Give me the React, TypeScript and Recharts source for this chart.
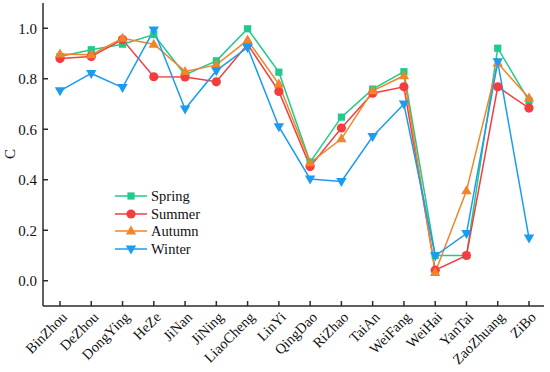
import React from 'react';
import { LineChart, Line, XAxis, YAxis } from 'recharts';

const cities = ['BinZhou', 'DeZhou', 'DongYing', 'HeZe', 'JiNan', 'JiNing', 'LiaoCheng', 'LinYi', 'QingDao', 'RiZhao', 'TaiAn', 'WeiFang', 'WeiHai', 'YanTai', 'ZaoZhuang', 'ZiBo'];
const spring = [0.888, 0.915, 0.937, 0.975, 0.816, 0.871, 0.998, 0.826, 0.470, 0.648, 0.759, 0.828, 0.100, 0.100, 0.921, 0.712];
const summer = [0.880, 0.888, 0.955, 0.808, 0.807, 0.788, 0.937, 0.750, 0.452, 0.605, 0.743, 0.768, 0.042, 0.100, 0.768, 0.684];
const autumn = [0.898, 0.895, 0.960, 0.937, 0.829, 0.855, 0.953, 0.779, 0.467, 0.562, 0.752, 0.812, 0.033, 0.356, 0.862, 0.724];
const winter = [0.752, 0.821, 0.765, 0.993, 0.680, 0.832, 0.924, 0.610, 0.403, 0.393, 0.571, 0.700, 0.099, 0.187, 0.867, 0.169];
const yTicks = [0, 0.2, 0.4, 0.6, 0.8, 1.0];

const seriesNames = ['Spring', 'Summer', 'Autumn', 'Winter'];
const colors = ['#1fcb8a', '#f43d3f', '#f0852a', '#1a9cf2'];
const shapes = ['square', 'circle', 'up', 'down'];

const data = cities.map((c, i) => ({
  city: c,
  Spring: spring[i],
  Summer: summer[i],
  Autumn: autumn[i],
  Winter: winter[i],
}));

const FONT = "'Liberation Serif', 'Times New Roman', serif";
const AXIS = '#2b2b2b';

function Marker({ shape, cx, cy, color }: any) {
  if (shape === 'square') {
    return <rect x={cx - 3.6} y={cy - 3.6} width={7.2} height={7.2} fill={color} />;
  }
  if (shape === 'circle') {
    return <circle cx={cx} cy={cy} r={4.6} fill={color} />;
  }
  if (shape === 'up') {
    return <polygon points={`${cx},${cy - 5.5} ${cx + 5.2},${cy + 3.5} ${cx - 5.2},${cy + 3.5}`} fill={color} />;
  }
  return <polygon points={`${cx},${cy + 5.5} ${cx + 5.2},${cy - 3.5} ${cx - 5.2},${cy - 3.5}`} fill={color} />;
}

const makeDot = (shape: string, color: string) => (props: any) => {
  const { cx, cy, index } = props;
  return <Marker key={`${shape}-${index}`} shape={shape} cx={cx} cy={cy} color={color} />;
};

const XTick = (props: any) => {
  const { x, y, payload } = props;
  const tx = x + 8;
  const ty = y + 12;
  return (
    <text x={tx} y={ty} textAnchor="end" transform={`rotate(-45 ${tx} ${ty})`} fontFamily={FONT} fontSize={14.5} fill="#111">
      {payload.value}
    </text>
  );
};

const YLabel = () => (
  <text x={15} y={154} transform="rotate(-90 15 154)" textAnchor="middle" fontFamily={FONT} fontSize={15} fill="#111">
    C
  </text>
);

export default function App() {
  return (
    <div style={{ position: 'absolute', left: 0, top: 0, width: 550, height: 372, background: '#fff' }}>
      <LineChart width={550} height={372} data={data} margin={{ top: 3, right: 6, bottom: 0, left: 0 }}>
        <XAxis
          dataKey="city"
          height={66}
          padding={{ left: 17, right: 15 }}
          interval={0}
          tickSize={-5}
          tickMargin={5}
          tick={<XTick />}
          axisLine={{ stroke: AXIS, strokeWidth: 1.5 }}
          tickLine={{ stroke: AXIS, strokeWidth: 1.5 }}
        />
        <XAxis
          xAxisId="top"
          dataKey="city"
          orientation="top"
          height={0}
          tick={false}
          tickLine={false}
          axisLine={{ stroke: AXIS, strokeWidth: 1.5 }}
        />
        <YAxis
          width={43}
          domain={[-0.1, 1.1]}
          ticks={yTicks}
          tickFormatter={(v: number) => v.toFixed(1)}
          tickSize={-5}
          tickMargin={11}
          tick={{ fontFamily: FONT, fontSize: 15, fill: '#111' }}
          axisLine={{ stroke: AXIS, strokeWidth: 1.5 }}
          tickLine={{ stroke: AXIS, strokeWidth: 1.5 }}
          label={{ content: () => <YLabel /> }}
        />
        <YAxis
          yAxisId="right"
          orientation="right"
          width={0}
          domain={[-0.1, 1.1]}
          tick={false}
          tickLine={false}
          axisLine={{ stroke: AXIS, strokeWidth: 1.5 }}
        />
        {seriesNames.map((name, i) => (
          <Line
            key={name}
            dataKey={name}
            stroke={colors[i]}
            strokeWidth={1.5}
            dot={makeDot(shapes[i], colors[i])}
            activeDot={false}
            isAnimationActive={false}
          />
        ))}
      </LineChart>
      <div style={{ position: 'absolute', left: 113, top: 187, fontFamily: FONT, fontSize: 14.5, color: '#111' }}>
        {seriesNames.map((name, i) => (
          <div key={name} style={{ display: 'flex', alignItems: 'center', height: 17.7 }}>
            <svg width={36} height={14} style={{ display: 'block' }}>
              <line x1={2} y1={7} x2={34} y2={7} stroke={colors[i]} strokeWidth={1.5} />
              <Marker shape={shapes[i]} cx={18} cy={7} color={colors[i]} />
            </svg>
            <span style={{ marginLeft: 2, lineHeight: '14px' }}>{name}</span>
          </div>
        ))}
      </div>
    </div>
  );
}
